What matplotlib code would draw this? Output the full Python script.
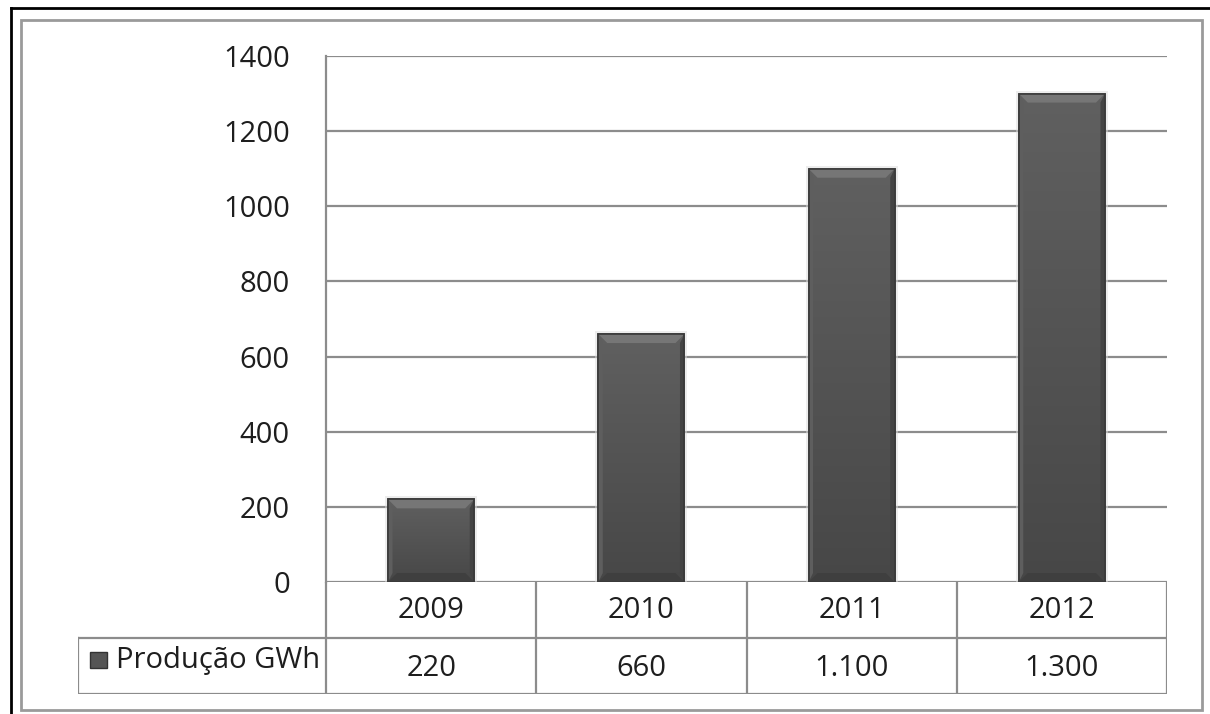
import matplotlib.pyplot as plt
import numpy as np
from matplotlib.colors import LinearSegmentedColormap
from matplotlib.patches import Polygon, Rectangle
from matplotlib.lines import Line2D

plt.rcParams['font.family'] = ['Open Sans', 'DejaVu Sans']

anos = ['2009', '2010', '2011', '2012']
producao = [220, 660, 1100, 1300]
rotulos_tabela = ['220', '660', '1.100', '1.300']
serie = 'Produção GWh'
yticks = [0, 200, 400, 600, 800, 1000, 1200, 1400]

W, H = 1210, 714
fig = plt.figure(figsize=(W / 100, H / 100), dpi=100)
fig.patch.set_facecolor('white')


def fx(px):
    return px / W


def fy(py):
    return 1 - py / H


grid_c = '#8c8c8c'
txt_c = '#1e1e1e'
lw_g = 1.6
fs = 21

# outer frames
fig.add_artist(Line2D([fx(11), 1], [fy(8), fy(8)], color='black', lw=2))
fig.add_artist(Line2D([fx(11), fx(11)], [fy(8), 0], color='black', lw=2))
fig.add_artist(Rectangle((fx(21), fy(710)), fx(1202) - fx(21), fy(20) - fy(710),
                         fill=False, ec='#9a9a9a', lw=2))

# plot area
L, R, T, B = 326, 1167, 56, 582
ax = fig.add_axes([fx(L), fy(B), fx(R) - fx(L), fy(T) - fy(B)])
ax.set_xlim(-0.5, len(anos) - 0.5)
ax.set_ylim(0, 1400)
ax.set_yticks(yticks)
ax.set_yticklabels([str(v) for v in yticks], fontsize=fs, color=txt_c)
ax.set_xticks([])
ax.tick_params(axis='y', length=0, pad=26)
for s in ['top', 'right', 'bottom']:
    ax.spines[s].set_visible(False)
ax.spines['left'].set_color(grid_c)
ax.spines['left'].set_linewidth(lw_g)
ax.yaxis.grid(True, color=grid_c, lw=lw_g)
ax.set_axisbelow(True)

# bars with a simple bevel look
cm_bar = LinearSegmentedColormap.from_list('barra', ['#474747', '#606060'])
bw = 0.41
px_x = 1 / 210.25
px_y = 1400 / (B - T)
grad = np.linspace(0, 1, 256).reshape(-1, 1)
for i, v in enumerate(producao):
    x0, x1 = i - bw / 2, i + bw / 2
    # soft shadow
    ax.add_patch(Rectangle((x0 - 3 * px_x, 0), bw + 6 * px_x, v + 3 * px_y,
                           fc='#dcdcdc', ec='none', alpha=0.5, zorder=2))
    bar = ax.bar(i, v, width=bw, color='#555555', edgecolor='#3c3c3c',
                 lw=1.2, zorder=3)[0]
    im = ax.imshow(grad, extent=(x0, x1, 0, v), cmap=cm_bar, vmin=0, vmax=1,
                   aspect='auto', origin='lower', zorder=3.1)
    im.set_clip_path(bar)
    bx, by = 9 * px_x, 9 * px_y
    ax.add_patch(Polygon([(x0, v), (x1, v), (x1 - bx, v - by), (x0 + bx, v - by)],
                         closed=True, fc='#767676', ec='none', zorder=3.2))
    ax.add_patch(Polygon([(x0, 0), (x1, 0), (x1 - bx, by), (x0 + bx, by)],
                         closed=True, fc='#3f3f3f', ec='none', zorder=3.2))
    ax.add_patch(Polygon([(x0, 0), (x0 + bx * 0.5, by), (x0 + bx * 0.5, v - by), (x0, v)],
                         closed=True, fc='#5e5e5e', ec='none', zorder=3.2))
    ax.add_patch(Polygon([(x1, 0), (x1 - bx * 0.5, by), (x1 - bx * 0.5, v - by), (x1, v)],
                         closed=True, fc='#444444', ec='none', zorder=3.2))
    ax.add_patch(Rectangle((x0, 0), bw, v, fill=False, ec='#3a3a3a', lw=1.2, zorder=3.3))

# data table below the plot
TL, TB = 78, 694
tab = fig.add_axes([fx(TL), fy(TB), fx(R) - fx(TL), fy(B) - fy(TB)])
col_w = (R - L) / len(anos)
tab.set_xlim(-0.5 - (L - TL) / col_w, len(anos) - 0.5)
tab.set_ylim(0, 2)
tab.axis('off')
tab.patch.set_alpha(0)
xl = -0.5 - (L - TL) / col_w
kw = dict(color=grid_c, lw=lw_g, solid_capstyle='projecting')
tab.plot([xl, len(anos) - 0.5], [1, 1], **kw)
tab.plot([xl, len(anos) - 0.5], [0, 0], **kw)
tab.plot([xl, xl], [0, 1], **kw)
for k in range(len(anos) + 1):
    tab.plot([k - 0.5, k - 0.5], [0, 2], **kw)
for i, (a, r) in enumerate(zip(anos, rotulos_tabela)):
    tab.text(i, 1.5, a, ha='center', va='center', fontsize=fs, color=txt_c)
    tab.text(i, 0.45, r, ha='center', va='center', fontsize=fs, color=txt_c)
tab.text(xl + 38 / col_w, 0.6, serie, ha='left', va='center', fontsize=fs, color=txt_c)
tab.add_patch(Rectangle((xl + 12 / col_w, 0.6 - 8 / 56), 17 / col_w, 16 / 56,
                        fc='#555555', ec='#333333', lw=1))

fig.savefig('out.png', dpi=100)
